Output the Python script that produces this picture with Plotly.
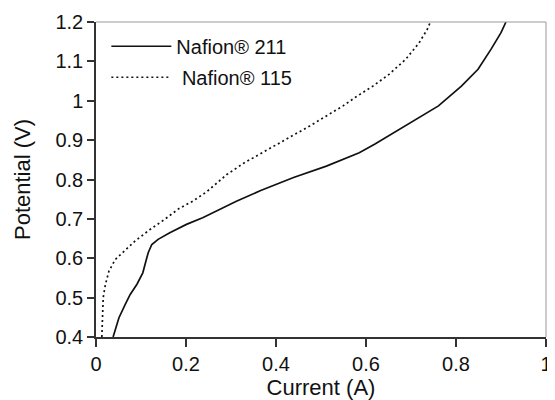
import plotly.graph_objects as go

# Nafion 211 (solid)
n211_current = [0.038, 0.051, 0.065, 0.076, 0.091, 0.104, 0.111, 0.116, 0.124, 0.138,
                0.164, 0.201, 0.237, 0.274, 0.312, 0.366, 0.439, 0.512, 0.585, 0.620,
                0.688, 0.761, 0.812, 0.849, 0.878, 0.900, 0.911]
n211_potential = [0.400, 0.449, 0.483, 0.508, 0.534, 0.563, 0.593, 0.614, 0.635, 0.648,
                  0.665, 0.686, 0.703, 0.724, 0.745, 0.772, 0.805, 0.834, 0.868, 0.890,
                  0.936, 0.987, 1.037, 1.080, 1.131, 1.173, 1.200]

# Nafion 115 (dotted)
n115_current = [0.013, 0.014, 0.016, 0.021, 0.029, 0.043, 0.062, 0.087, 0.120, 0.153,
                0.184, 0.215, 0.245, 0.290, 0.329, 0.402, 0.475, 0.549, 0.578, 0.615,
                0.651, 0.688, 0.718, 0.736, 0.743]
n115_potential = [0.400, 0.449, 0.500, 0.534, 0.568, 0.597, 0.618, 0.644, 0.673, 0.699,
                  0.726, 0.745, 0.768, 0.812, 0.842, 0.889, 0.936, 0.987, 1.010, 1.037,
                  1.067, 1.105, 1.147, 1.181, 1.200]

x_ticks = [0, 0.2, 0.4, 0.6, 0.8, 1]
x_labels = ["0", "0.2", "0.4", "0.6", "0.8", "1"]
y_ticks = [0.4, 0.5, 0.6, 0.7, 0.8, 0.9, 1.0, 1.1, 1.2]
y_labels = ["0.4", "0.5", "0.6", "0.7", "0.8", "0.9", "1", "1.1", "1.2"]

FONT = "Liberation Sans, Arial, sans-serif"

fig = go.Figure()
fig.add_trace(go.Scatter(x=n211_current, y=n211_potential, mode="lines",
                         name="Nafion® 211", legendgroup="a",
                         line=dict(color="#111", width=1.7)))
fig.add_trace(go.Scatter(x=n115_current, y=n115_potential, mode="lines",
                         name=" Nafion® 115", legendgroup="b",
                         line=dict(color="#111", width=1.7, dash="2px,3px")))

# page body has an 8px margin, so the figure is sized/offset to compensate
fig.update_layout(
    width=547, height=392,
    margin=dict(l=88, r=3, t=13, b=56),
    paper_bgcolor="white", plot_bgcolor="white",
    font=dict(family=FONT, size=20, color="#111"),
    showlegend=True,
    legend=dict(x=0.023, y=0.985, xanchor="left", yanchor="top",
                bgcolor="rgba(0,0,0,0)", font=dict(size=20),
                tracegroupgap=2, itemwidth=60),
    xaxis=dict(range=[0, 1], tickvals=x_ticks, ticktext=x_labels,
               showgrid=False, zeroline=False, showline=True,
               linecolor="#333", linewidth=1.5, ticks="outside", ticklen=8,
               tickcolor="#333", tickwidth=1.5, ticklabeloverflow="allow",
               title=dict(text="Current (A)", font=dict(size=22), standoff=7)),
    yaxis=dict(range=[0.4, 1.2], tickvals=y_ticks, ticktext=y_labels,
               showgrid=False, zeroline=False, showline=True,
               linecolor="#333", linewidth=1.5, ticks="outside", ticklen=7,
               tickcolor="#333", tickwidth=1.5, ticklabeloverflow="allow",
               title=dict(text="Potential (V)", font=dict(size=22), standoff=19)),
    shapes=[
        dict(type="line", xref="paper", yref="paper", x0=0, x1=1, y0=1, y1=1,
             line=dict(color="#999", width=1)),
        dict(type="line", xref="paper", yref="paper", x0=1, x1=1, y0=0, y1=1,
             line=dict(color="#999", width=1)),
    ],
)

fig.write_html("out.html")
